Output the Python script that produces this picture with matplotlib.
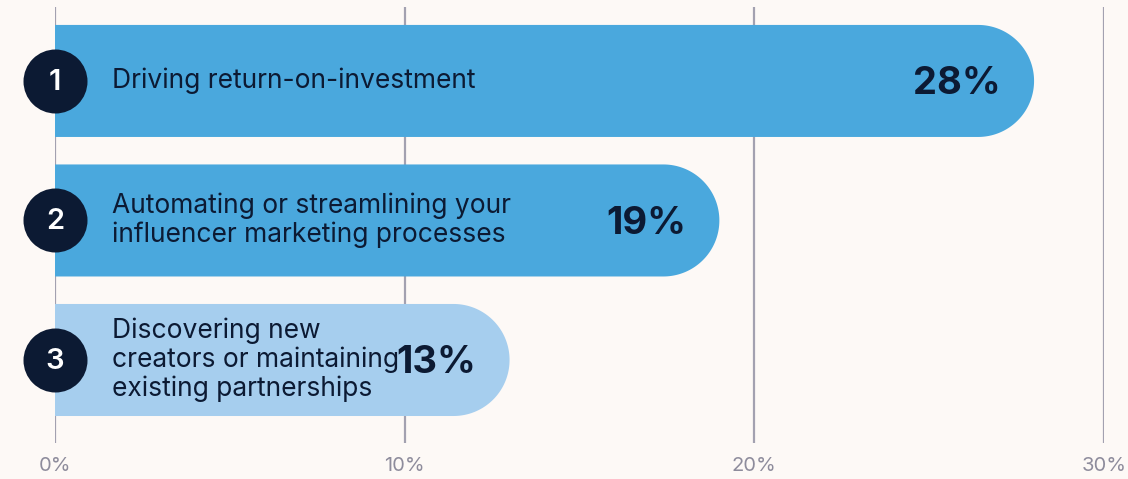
import matplotlib
matplotlib.use("Agg")
import matplotlib.pyplot as plt
import numpy as np
from matplotlib.patches import Polygon

plt.rcParams['font.family'] = ['Inter', 'DejaVu Sans']

# Data
ranks = ["1", "2", "3"]
labels = [
    "Driving return-on-investment",
    "Automating or streamlining your\ninfluencer marketing processes",
    "Discovering new\ncreators or maintaining\nexisting partnerships",
]
values = [28, 19, 13]
xticks = [0, 10, 20, 30]
xtick_labels = ["0%", "10%", "20%", "30%"]

# Styling
BG = "#fdf9f6"
BAR_COLORS = ["#4aa8dd", "#4aa8dd", "#a6ceee"]
DARK = "#0c1a33"
GRID = "#a3a1b0"
TICK = "#8e8c9c"

W, H, DPI = 1128, 479, 100
fig = plt.figure(figsize=(W / DPI, H / DPI), dpi=DPI, facecolor=BG)
ax = fig.add_axes([55 / W, (H - 443) / H, (1104 - 55) / W, (443 - 7) / H])
ax.set_facecolor(BG)
ax.set_xlim(0, 30)
ax.set_ylim(2.595, -0.53)

for s in ax.spines.values():
    s.set_visible(False)

ax.set_xticks(xticks)
ax.set_xticklabels(xtick_labels)
ax.tick_params(axis="x", length=0, pad=10, labelsize=14.5, labelcolor=TICK)
ax.set_yticks([])
ax.grid(axis="x", color=GRID, linewidth=1.6, zorder=0)
ax.set_axisbelow(True)

# pixel scale of data units
ax_w_px = (1104 - 55)
ax_h_px = (443 - 7)
px_per_x = ax_w_px / 30
px_per_y = ax_h_px / (2.595 + 0.53)

bar_h = 0.803
rx = (bar_h * px_per_y / 2) / px_per_x  # cap radius in x data units

theta = np.linspace(-np.pi / 2, np.pi / 2, 90)
for i, (v, c) in enumerate(zip(values, BAR_COLORS)):
    cx = v - rx
    arc_x = cx + rx * np.cos(theta)
    arc_y = i + (bar_h / 2) * np.sin(theta)
    pts = [(0, i - bar_h / 2)] + list(zip(arc_x, arc_y)) + [(0, i + bar_h / 2)]
    ax.add_patch(Polygon(pts, closed=True, facecolor=c, edgecolor="none", zorder=2))

    ax.text(1.63, i, labels[i], ha="left", va="center", fontsize=19,
            color=DARK, linespacing=1.12, zorder=4)
    ax.annotate(f"{v}%", xy=(v, i), xytext=(-24, -2.5), textcoords="offset points",
                ha="right", va="center", fontsize=27.5, fontweight="bold",
                color=DARK, zorder=4)

ax.scatter([0] * len(ranks), range(len(ranks)), s=(64 * 0.72) ** 2, color=DARK,
           zorder=5, clip_on=False, linewidths=0)
for i, r in enumerate(ranks):
    ax.annotate(r, xy=(0, i), xytext=(0, -1), textcoords="offset points",
                ha="center", va="center", fontsize=21, color="white",
                fontweight="semibold", zorder=6, annotation_clip=False)

fig.savefig("out.png", dpi=DPI, facecolor=BG)
